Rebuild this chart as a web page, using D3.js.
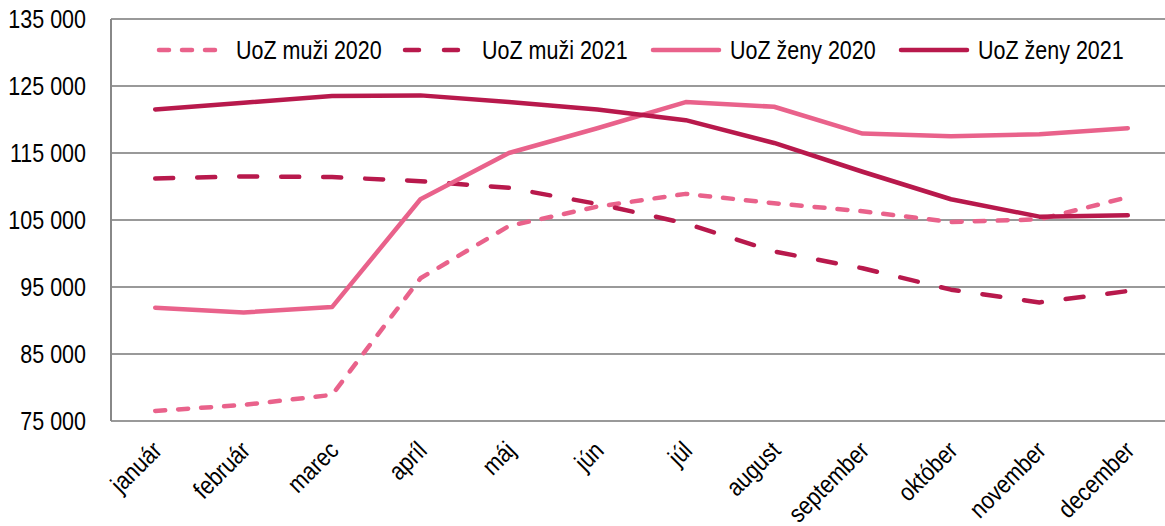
<!DOCTYPE html>
<html><head><meta charset="utf-8">
<script src="https://cdn.jsdelivr.net/npm/d3@7"></script>
<style>body{margin:0;background:#fff}svg{display:block}text{font-family:"Liberation Sans",Arial,sans-serif;fill:#000}</style>
</head><body>
<svg id="c" width="1165" height="526"></svg>
<script>
const months = ["január","február","marec","apríl","máj","jún","júl","august","september","október","november","december"];
const yTicks = [75000,85000,95000,105000,115000,125000,135000];
const muzi2020 = [76500,77400,78900,96300,104100,107000,108900,107500,106300,104700,105100,108400];
const muzi2021 = [111200,111500,111400,110800,109800,107400,104500,100300,97800,94600,92700,94400];
const zeny2020 = [91900,91200,92000,108100,115000,118700,122600,121900,117900,117500,117800,118700];
const zeny2021 = [121500,122500,123500,123600,122600,121500,119900,116500,112200,108100,105500,105700];
const seriesNames = ["UoZ muži 2020","UoZ muži 2021","UoZ ženy 2020","UoZ ženy 2021"];

const LIGHT = "#E9628B", DARK = "#B8194C";
const styles = [
  {color: LIGHT, dash: "10 13"},
  {color: DARK, dash: "18 24"},
  {color: LIGHT, dash: null},
  {color: DARK, dash: null}
];
const seriesData = [muzi2020, muzi2021, zeny2020, zeny2021];

const svg = d3.select("#c");
const L = 111, R = 1172, T = 19, B = 421;
const x = d3.scaleBand().domain(months).range([L, R]);
const y = d3.scaleLinear().domain([75000,135000]).range([B, T]);
const fmt = v => d3.format(",")(v).replace(/,/g, " ");
const SX = 0.86;

// gridlines
svg.append("g").selectAll("line").data(yTicks).join("line")
  .attr("x1", L).attr("x2", R).attr("y1", d => y(d)).attr("y2", d => y(d))
  .attr("stroke", "#999").attr("stroke-width", 2);
// y axis line
svg.append("line").attr("x1", L).attr("x2", L).attr("y1", T).attr("y2", B)
  .attr("stroke", "#888").attr("stroke-width", 2);

// y labels
svg.append("g").selectAll("text").data(yTicks).join("text")
  .attr("transform", d => `translate(86,${y(d)}) scale(${SX},1)`)
  .attr("text-anchor", "end").attr("dy", "0.36em")
  .style("font-size", "25px").text(fmt);

// x labels
svg.append("g").selectAll("text").data(months).join("text")
  .attr("transform", d => `translate(${x(d) + x.bandwidth()/2 + 8},${452}) rotate(-45) scale(${SX},1)`)
  .attr("text-anchor", "end")
  .style("font-size", "25px").text(d => d);

// lines
const line = d3.line().x((d,i) => x(months[i]) + x.bandwidth()/2).y(d => y(d));
seriesData.forEach((s, k) => {
  const p = svg.append("path").datum(s).attr("d", line)
    .attr("fill", "none").attr("stroke", styles[k].color).attr("stroke-width", 4.5)
    .attr("stroke-linejoin", "round").attr("stroke-linecap", "round");
  if (styles[k].dash) p.attr("stroke-dasharray", styles[k].dash);
});

// legend
const legX = [159, 405, 653, 901];
const lg = svg.append("g");
seriesNames.forEach((n, k) => {
  const g = lg.append("g");
  const l = g.append("line").attr("x1", legX[k]).attr("x2", legX[k] + 66)
    .attr("y1", 50).attr("y2", 50).attr("stroke", styles[k].color)
    .attr("stroke-width", 4.5).attr("stroke-linecap", "round");
  if (styles[k].dash) l.attr("stroke-dasharray", k === 0 ? "10 13" : "14 25");
  g.append("text").attr("transform", `translate(${legX[k] + 77},50) scale(${SX},1)`)
    .attr("dy", "0.36em").style("font-size", "25px").text(n);
});
</script>
</body></html>
